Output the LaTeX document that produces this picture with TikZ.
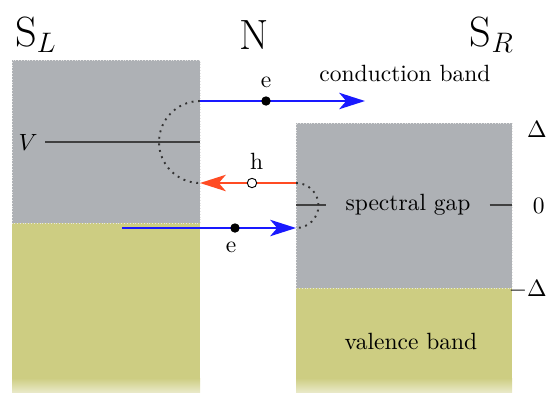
\documentclass[tikz,border=0pt]{standalone}
\usetikzlibrary{arrows.meta,positioning}

\definecolor{gapgray}{RGB}{174,177,181}
\definecolor{bandolive}{RGB}{205,205,130}
\definecolor{elblue}{RGB}{25,25,255}
\definecolor{holered}{RGB}{255,75,35}

\begin{document}
\begin{tikzpicture}[x=0.4255pt, y=0.4255pt, >={Stealth[length=11pt, width=7pt, inset=3pt]}]

\tikzset{
  gapbox/.style={fill=gapgray},
  bandbox/.style={fill=bandolive},
  edge/.style={draw=white!80!gray, densely dotted, very thin},
  level/.style={draw=black!75, semithick},
  eline/.style={->, thick, elblue},
  hline/.style={->, thick, holered},
  andreev/.style={dotted, thick, black!80},
  electron/.style={circle, fill=black, inner sep=0pt, minimum size=4pt},
  hole/.style={circle, draw=black, fill=white, thin, inner sep=0pt, minimum size=4pt},
  lbl/.style={font=\normalsize},
  title/.style={font=\fontsize{18}{22}\selectfont}
}

\useasboundingbox (0,0) rectangle (554,392);

% ==========================
% Bands: left and right superconductor
% ==========================
\fill[bandbox] (12,14) rectangle (200,169);
\shade[top color=bandolive, bottom color=bandolive!45] (12,0) rectangle (200,14);
\fill[gapbox] (12,169) rectangle (200,332);
\draw[edge] (12,169) rectangle (200,332);

\fill[bandbox] (296,14) rectangle (512,104);
\shade[top color=bandolive, bottom color=bandolive!45] (296,0) rectangle (512,14);
\fill[gapbox] (296,104) rectangle (512,269);
\draw[edge] (296,104) rectangle (512,269);

% Titles
\node[title] (SL) at (36,357) {S$_L$};
\node[title] (N) at (254,357) {N};
\node[title] (SR) at (492,357) {S$_R$};

\node[lbl] (cband) at (405,319) {conduction band};
\node[lbl] (vband) at (411,51) {valence band};

% Levels
\coordinate (Vl) at (45,250);
\coordinate (Vr) at (200,250);
\node[lbl] (V) at (28,250) {$V$};
\draw[level] (Vl) -- (Vr);

\coordinate (Rgapl) at (296,187);
\coordinate (Rgapr) at (512,187);
\node[lbl, inner xsep=8pt] (gap) at (408,187) {spectral gap};
\draw[level] (Rgapl) -- (gap.west);
\draw[level] (gap.east) -- (Rgapr);

\node[lbl, anchor=east] (dplus) at (555,263) {$\Delta$};
\node[lbl, anchor=east] (dzero) at (553,186) {$0$};
\node[lbl, anchor=east] (dminus) at (555,103) {$-\Delta$};

% ==========================
% Andreev reflection path
% ==========================
\coordinate (Lup) at (200,291);
\coordinate (Uend) at (365,291);
\coordinate (Lhole) at (200,209);
\coordinate (Rhole) at (296,209);
\coordinate (Lstart) at (122,164);
\coordinate (Rin) at (296,164);

\draw[eline] (Lstart) -- (Rin);
\draw[andreev] (Rhole) arc[start angle=90, end angle=-90, radius=22.5];
\draw[hline] (Rhole) -- (Lhole);
\draw[andreev] (Lup) arc[start angle=90, end angle=270, radius=41];
\draw[eline] (Lup) -- (Uend);

\node[electron] (e1) at (266,291) {};
\node[lbl, above=0pt of e1] (e1lbl) {e};
\node[hole] (h1) at (252,209) {};
\node[lbl, above=0pt of h1, xshift=2pt] (h1lbl) {h};
\node[electron] (e2) at (235,164) {};
\node[lbl, below=0pt of e2, xshift=-1.7pt] (e2lbl) {e};

\end{tikzpicture}
\end{document}
